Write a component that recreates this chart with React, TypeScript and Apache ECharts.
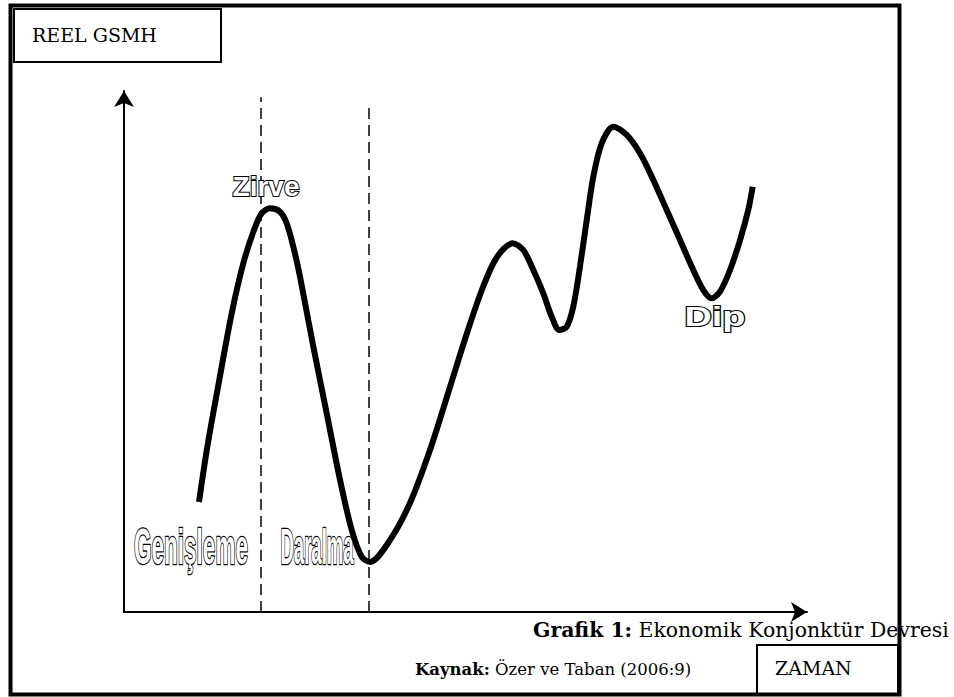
import React, { useEffect, useRef } from "react";
import * as echarts from "echarts";

const curveX = [10.98, 12.2, 13.95, 15.77, 17.47, 19.03, 20.16, 21.38, 22.84, 23.82, 24.79, 25.77, 27.72, 29.68, 31.63, 33.34, 34.8, 36.02, 38.95, 41.87, 44.8, 47.73, 50.22, 52.56, 54.61, 56.91, 58.46, 59.93, 61.39, 62.62, 63.73, 64.82, 65.78, 66.76, 67.75, 68.71, 69.94, 71.64, 73.6, 75.55, 77.5, 79.46, 81.41, 83.35, 84.82, 86.05, 87.26, 88.73, 90.2, 91.4, 92.05];
const curveY = [21.11, 31.73, 44.53, 57.33, 66.93, 73.32, 76.53, 77.49, 76.83, 74.61, 70.12, 64.36, 50.92, 38.14, 25.34, 15.74, 10.61, 9.6, 13.82, 20.92, 31.09, 43.19, 53.55, 62.38, 68.14, 70.77, 69.48, 65.64, 61.17, 56.68, 54.13, 54.76, 58.6, 66.28, 75.24, 83.55, 89.96, 93.15, 91.56, 88.04, 82.92, 77.16, 71.4, 65.64, 61.8, 60.21, 61.48, 65.64, 71.4, 77.16, 81.63];

// Dashed phase boundaries: x position and top end
const phaseX = [20.06, 35.87, 71.16, 85.8];
const phaseTop = [98.8, 96.9, 101.7, 101.7];

const phaseLabels = ["Genişleme", "Daralma"];
const turningLabels = ["Zirve", "Dip"];
const yAxisTitle = "REEL GSMH";
const xAxisTitle = "ZAMAN";
const captionBold = "Grafik 1:";
const captionText = "Ekonomik Konjonktür Devresi";
const sourceBold = "Kaynak:";
const sourceText = "Özer ve Taban (2006:9)";

const SERIF = '"DejaVu Serif"';
const SANS = '"Liberation Sans"';

function outlined(text: string, x: number, y: number, size: number, scaleX: number, lw: number) {
  return {
    type: "text",
    x,
    y,
    scaleX,
    z: 50,
    style: {
      text,
      font: `bold ${size}px ${SANS}`,
      fill: "#fff",
      stroke: "#000",
      lineWidth: lw,
      textAlign: "center",
      textVerticalAlign: "middle",
    },
  };
}

function serifText(parts: { b: string; r: string } | string, x: number, y: number, size: number) {
  const rich = {
    b: { font: `bold ${size}px ${SERIF}`, fill: "#000" },
    r: { font: `${size}px ${SERIF}`, fill: "#000" },
  };
  const text = typeof parts === "string" ? `{r|${parts}}` : `{b|${parts.b}}{r| ${parts.r}}`;
  return {
    type: "text",
    x,
    y,
    z: 40,
    style: {
      text,
      rich,
      font: `${size}px ${SERIF}`,
      fill: "#000",
      textAlign: "left",
      textVerticalAlign: "middle",
    },
  };
}

export default function App() {
  const ref = useRef<HTMLDivElement>(null);
  useEffect(() => {
    if (!ref.current) return;
    const chart = echarts.init(ref.current, undefined, { renderer: "svg" });
    const axisCommon = {
      type: "value",
      min: 0,
      max: 100,
      axisLine: {
        show: true,
        onZero: false,
        symbol: ["none", "arrow"],
        symbolSize: [15, 16],
        lineStyle: { color: "#000", width: 2 },
      },
      axisTick: { show: false },
      axisLabel: { show: false },
      splitLine: { show: false },
    };
    const option = {
      animation: false,
      backgroundColor: "#fff",
      grid: { left: 124, right: 147, top: 91, bottom: 85 },
      xAxis: axisCommon,
      yAxis: axisCommon,
      series: [
        {
          type: "line",
          data: curveX.map((x, i) => [x, curveY[i]]),
          smooth: 0.3,
          symbol: "none",
          clip: false,
          silent: true,
          lineStyle: { color: "#000", width: 6 },
          markLine: {
            silent: true,
            symbol: "none",
            label: { show: false },
            lineStyle: { color: "#000", type: [11, 6], width: 1.5 },
            data: phaseX.map((x, i) => [{ coord: [x, 0] }, { coord: [x, phaseTop[i]] }]),
          },
        },
      ],
      graphic: [
        {
          type: "rect",
          z: 30,
          shape: { x: 14, y: 9, width: 207, height: 53 },
          style: { fill: "#fff", stroke: "#000", lineWidth: 2 },
        },
        serifText(yAxisTitle, 32, 35, 19),
        {
          type: "rect",
          z: 30,
          shape: { x: 757, y: 645, width: 141, height: 50 },
          style: { fill: "#fff", stroke: "#000", lineWidth: 2 },
        },
        serifText(xAxisTitle, 775, 668, 19),
        serifText({ b: captionBold, r: captionText }, 533, 630, 20.4),
        serifText({ b: sourceBold, r: sourceText }, 415, 669, 16.5),
        outlined(turningLabels[0], 266, 186, 28, 1, 2),
        outlined(turningLabels[1], 715, 316, 28, 1.35, 2),
        outlined(phaseLabels[0], 191, 547, 50, 0.45, 2.6),
        outlined(phaseLabels[1], 317, 547, 50, 0.37, 2.6),
        {
          type: "rect",
          z: 100,
          shape: { x: 10.5, y: 5.5, width: 889, height: 689 },
          style: { fill: "none", stroke: "#000", lineWidth: 4 },
        },
      ],
    };
    chart.setOption(option as any);
    return () => chart.dispose();
  }, []);
  return (
    <div
      ref={ref}
      style={{ position: "absolute", left: 0, top: 0, width: 954, height: 697, background: "#fff" }}
    />
  );
}
